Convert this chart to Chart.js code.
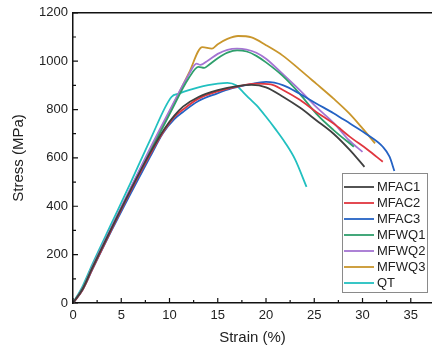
<!DOCTYPE html>
<html lang="en">
<head>
    <meta charset="UTF-8">
    <title>Stress-Strain Curves</title>
    <script src="https://cdn.jsdelivr.net/npm/chart.js"></script>
    <style>
        html, body { margin: 0; padding: 0; background: #fff; }
        #wrap { width: 432px; height: 347px; position: relative; }
    </style>
</head>
<body>
<div id="wrap"><canvas id="stressStrain"></canvas></div>

<script>
    // Series labels and colours
    const seriesNames = ['MFAC1', 'MFAC2', 'MFAC3', 'MFWQ1', 'MFWQ2', 'MFWQ3', 'QT'];
    const seriesColors = ['#404040', '#e0363f', '#2462c4', '#2f9f6c', '#a474d2', '#c9962c', '#22c0c0'];

    // Strain (%) values for each curve
    const mfac1Strain = [0, 1, 2, 4, 6, 8, 9.5, 10.5, 11.4, 13, 15, 17, 18.5, 20, 21.8, 23.5, 25.2, 27, 28.7, 30.2];
    const mfac2Strain = [0, 1, 2, 4, 6, 8, 9.5, 10.5, 11.4, 13, 15, 17, 19, 20.5, 21.8, 23.5, 25.2, 27, 28.7, 30.5, 32.1];
    const mfac3Strain = [0, 1, 2, 4, 6, 8, 9.3, 10.5, 11.4, 13, 14.9, 16.5, 18.3, 20, 21.8, 23.5, 25.2, 27, 28.7, 30.5, 32.1, 32.8, 33.3];
    const mfwq1Strain = [0, 1, 2, 4, 6, 8, 10, 12, 13, 13.6, 14, 15, 16, 17, 18, 19, 20, 21.7, 23.5, 25.2, 27, 29.1];
    const mfwq2Strain = [0, 1, 2, 4, 6, 8, 10, 12, 12.8, 13.2, 14, 15, 16, 17, 18, 19, 20, 21.7, 23.5, 25.2, 27, 28.6, 30];
    const mfwq3Strain = [0, 1, 2, 4, 6, 8, 10, 12, 13.4, 14.4, 15, 16, 17.1, 18.5, 20, 21.7, 23.5, 25.2, 27, 28.6, 30, 31.3];
    const qtStrain = [0, 1, 2, 4, 6, 8, 10.2, 11, 12, 13, 14, 15, 16, 16.9, 17.6, 18.3, 19, 20, 21, 22, 23, 24.2];

    // Stress (MPa) values for each curve
    const mfac1Stress = [0, 58, 145, 310, 470, 622, 722, 775, 812, 852, 880, 897, 902, 892, 852, 808, 756, 700, 632, 563];
    const mfac2Stress = [0, 55, 140, 305, 465, 615, 716, 770, 800, 845, 875, 895, 907, 904, 880, 840, 790, 742, 687, 635, 584];
    const mfac3Stress = [0, 55, 138, 300, 455, 605, 701, 760, 790, 835, 866, 888, 904, 914, 900, 865, 825, 785, 742, 696, 646, 605, 546];
    const mfwq1Stress = [0, 60, 145, 305, 465, 625, 780, 930, 976, 972, 982, 1012, 1035, 1045, 1040, 1022, 995, 940, 865, 783, 715, 646];
    const mfwq2Stress = [0, 62, 150, 315, 478, 640, 795, 945, 990, 985, 1003, 1030, 1047, 1052, 1048, 1035, 1010, 948, 880, 811, 745, 673, 625];
    const mfwq3Stress = [0, 60, 148, 312, 475, 635, 790, 950, 1058, 1052, 1070, 1092, 1104, 1098, 1066, 1024, 965, 907, 845, 785, 722, 660];
    const qtStress = [0, 70, 160, 330, 500, 675, 852, 866, 880, 892, 901, 907, 910, 900, 873, 845, 818, 770, 718, 662, 595, 480];

    // Axis ticks
    const xMajorTicks = [0, 5, 10, 15, 20, 25, 30, 35];
    const yMajorTicks = [0, 200, 400, 600, 800, 1000, 1200];

    const strainSets = [mfac1Strain, mfac2Strain, mfac3Strain, mfwq1Strain, mfwq2Strain, mfwq3Strain, qtStrain];
    const stressSets = [mfac1Stress, mfac2Stress, mfac3Stress, mfwq1Stress, mfwq2Stress, mfwq3Stress, qtStress];

    const datasets = seriesNames.map((name, i) => ({
        label: name,
        data: strainSets[i].map((x, j) => ({x: x, y: stressSets[i][j]})),
        borderColor: seriesColors[i],
        backgroundColor: seriesColors[i],
        borderWidth: 1.8,
        pointRadius: 0,
        showLine: true,
        fill: false,
        cubicInterpolationMode: 'monotone'
    }));

    const fontFamily = '"Liberation Sans", Arial, sans-serif';

    // inward ticks, top frame line and boxed legend inside the plot
    const framePlugin = {
        id: 'frame',
        afterDraw(chart) {
            const ctx = chart.ctx;
            const area = chart.chartArea;
            const xs = chart.scales.x, ys = chart.scales.y;
            ctx.save();
            ctx.strokeStyle = '#111';
            ctx.lineWidth = 1.5;
            ctx.beginPath();
            ctx.moveTo(area.left, area.top);
            ctx.lineTo(area.right, area.top);
            ctx.stroke();

            ctx.lineWidth = 1.2;
            ctx.beginPath();
            xMajorTicks.forEach(v => {
                const px = xs.getPixelForValue(v);
                ctx.moveTo(px, area.bottom); ctx.lineTo(px, area.bottom - 5);
                const mx = xs.getPixelForValue(v + 2.5);
                if (mx < area.right) { ctx.moveTo(mx, area.bottom); ctx.lineTo(mx, area.bottom - 3); }
            });
            yMajorTicks.forEach(v => {
                const py = ys.getPixelForValue(v);
                ctx.moveTo(area.left, py); ctx.lineTo(area.left + 5, py);
                if (v < 1200) {
                    const my = ys.getPixelForValue(v + 100);
                    ctx.moveTo(area.left, my); ctx.lineTo(area.left + 3, my);
                }
            });
            ctx.stroke();

            // legend
            const bx = 342, by = 173, bw = 85, bh = 119;
            ctx.fillStyle = '#fff';
            ctx.fillRect(bx, by, bw, bh);
            ctx.strokeStyle = '#8a8a8a';
            ctx.lineWidth = 1;
            ctx.strokeRect(bx + 0.5, by + 0.5, bw, bh);
            ctx.font = '13px ' + fontFamily;
            ctx.textBaseline = 'middle';
            ctx.textAlign = 'left';
            chart.data.datasets.forEach((ds, i) => {
                const y = by + 14 + i * 16;
                ctx.strokeStyle = ds.borderColor;
                ctx.lineWidth = 1.8;
                ctx.beginPath();
                ctx.moveTo(bx + 2, y); ctx.lineTo(bx + 32, y);
                ctx.stroke();
                ctx.fillStyle = '#222';
                ctx.fillText(ds.label, bx + 35, y + 0.5);
            });
            ctx.restore();
        }
    };

    const ctx = document.getElementById('stressStrain').getContext('2d');
    new Chart(ctx, {
        type: 'scatter',
        data: { datasets: datasets },
        options: {
            responsive: true,
            maintainAspectRatio: false,
            animation: false,
            layout: { padding: { top: 5, right: 0, left: 0, bottom: 0 } },
            plugins: {
                legend: { display: false },
                tooltip: { enabled: false }
            },
            scales: {
                x: {
                    type: 'linear',
                    min: 0,
                    max: 37.2,
                    afterFit: scale => { scale.height = 44; },
                    border: { display: true, color: '#111', width: 1.5 },
                    grid: { display: false, drawTicks: false },
                    ticks: {
                        stepSize: 5,
                        includeBounds: false,
                        padding: 5,
                        color: '#222',
                        callback: v => String(v),
                        font: { family: fontFamily, size: 13 }
                    },
                    title: {
                        display: true,
                        text: 'Strain (%)',
                        color: '#222',
                        padding: { top: 4, bottom: 0 },
                        font: { family: fontFamily, size: 15 }
                    }
                },
                y: {
                    type: 'linear',
                    min: 0,
                    max: 1200,
                    afterFit: scale => { scale.width = 73; },
                    border: { display: true, color: '#111', width: 1.5 },
                    grid: { display: false, drawTicks: false },
                    ticks: {
                        stepSize: 200,
                        padding: 5,
                        color: '#222',
                        callback: v => String(v),
                        font: { family: fontFamily, size: 13 }
                    },
                    title: {
                        display: true,
                        text: 'Stress (MPa)',
                        color: '#222',
                        padding: { top: 10, bottom: 4 },
                        font: { family: fontFamily, size: 15 }
                    }
                }
            }
        },
        plugins: [framePlugin]
    });
</script>
</body>
</html>
